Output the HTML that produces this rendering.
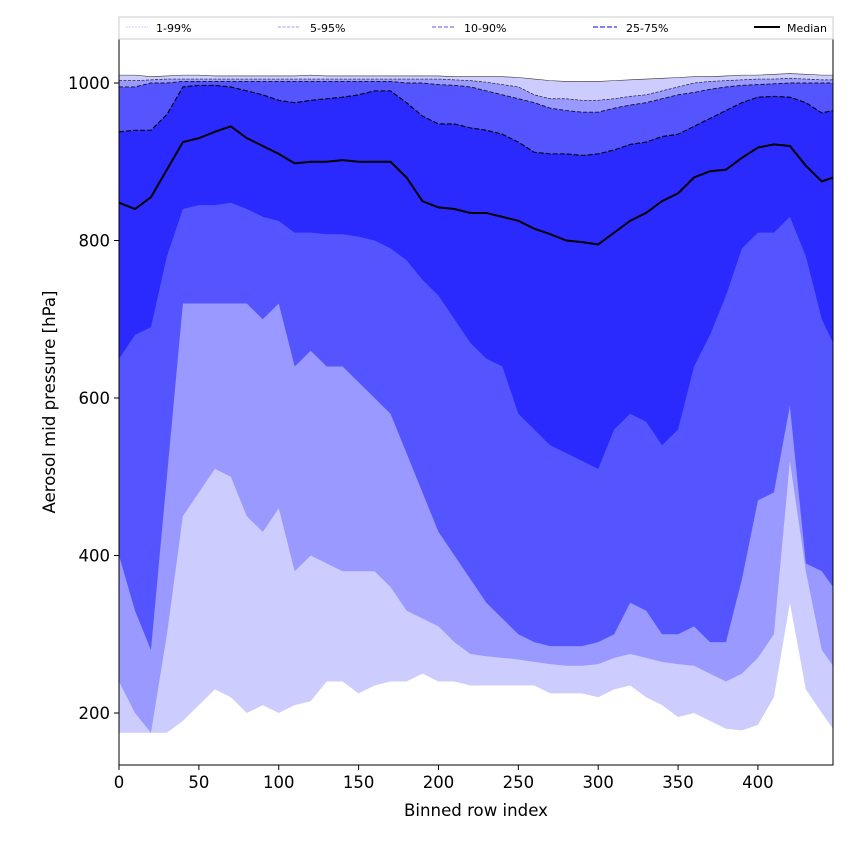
<!DOCTYPE html>
<html><head><meta charset="utf-8"><style>
body{margin:0;background:#fff;}
svg text{font-family:"DejaVu Sans","Liberation Sans",sans-serif;}
</style></head><body>
<svg id="chart" width="850" height="850" viewBox="0 0 850 850" xmlns="http://www.w3.org/2000/svg">
<g id="bands"></g>
<g id="lines"></g>
<rect x="119" y="38" width="714" height="727" fill="none" stroke="#000" stroke-width="1"/>
<g id="axes"></g>
<text x="476" y="816" font-size="16.6" text-anchor="middle">Binned row index</text>
<text transform="translate(55,402) rotate(-90)" font-size="16.6" text-anchor="middle">Aerosol mid pressure [hPa]</text>
<g>
<rect x="119" y="17" width="714" height="22" fill="#fff" stroke="#ccc"/>
<g><line x1="126" y1="27" x2="148" y2="27" stroke="#ccccff" stroke-dasharray="2,1"/><text x="156" y="32" font-size="11">1-99%</text></g>
<g><line x1="278" y1="27" x2="300" y2="27" stroke="#9999ff" stroke-dasharray="3,1.5"/><text x="310" y="32" font-size="11">5-95%</text></g>
<g><line x1="432" y1="27" x2="456" y2="27" stroke="#7777ff" stroke-width="1.2" stroke-dasharray="4,2"/><text x="464" y="32" font-size="11">10-90%</text></g>
<g><line x1="593" y1="27" x2="617" y2="27" stroke="#5555ff" stroke-width="1.6" stroke-dasharray="5,2"/><text x="626" y="32" font-size="11">25-75%</text></g>
<g><line x1="754" y1="27" x2="780" y2="27" stroke="#000" stroke-width="2"/><text x="787" y="32" font-size="11">Median</text></g>
</g>
</svg>
<script>
const rows=[0,10,20,30,40,50,60,70,80,90,100,110,120,130,140,150,160,170,180,190,200,210,220,230,240,250,260,270,280,290,300,310,320,330,340,350,360,370,380,390,400,410,420,430,440,447];
const p1=[175,175,175,175,190,210,230,220,200,210,200,210,215,240,240,225,235,240,240,250,240,240,235,235,235,235,235,225,225,225,220,230,235,220,210,195,200,190,180,178,185,220,340,230,200,180];
const p5=[240,200,175,300,450,480,510,500,450,430,460,380,400,390,380,380,380,360,330,320,310,290,275,272,270,268,265,262,260,260,262,270,275,270,265,262,260,250,240,250,270,300,520,380,280,260];
const p10=[400,330,280,500,720,720,720,720,720,700,720,640,660,640,640,620,600,580,530,480,430,400,370,340,320,300,290,285,285,285,290,300,340,330,300,300,310,290,290,370,470,480,590,390,380,360];
const p25=[650,680,690,780,840,845,845,848,840,830,825,810,810,808,808,805,800,790,775,750,730,700,670,650,640,580,560,540,530,520,510,560,580,570,540,560,640,680,730,790,810,810,830,780,700,670];
const median=[848,840,855,890,925,930,938,945,930,920,910,898,900,900,902,900,900,900,880,850,842,840,835,835,830,825,815,808,800,798,795,810,825,835,850,860,880,888,890,905,918,922,920,895,875,880];
const p75=[938,940,940,960,995,997,997,995,990,985,978,975,978,980,982,985,990,990,975,958,948,948,943,940,935,925,912,910,910,908,910,915,922,925,932,935,945,955,965,975,982,983,982,975,962,965];
const p90=[995,995,1000,1000,1002,1002,1002,1002,1002,1002,1002,1002,1002,1002,1002,1002,1002,1002,1000,1000,998,997,995,990,985,980,975,968,965,963,963,968,972,975,980,985,988,992,995,997,998,999,1000,1000,1000,1000];
const p95=[1003,1003,1004,1005,1005,1005,1005,1005,1005,1005,1005,1005,1005,1005,1005,1005,1005,1005,1005,1005,1005,1004,1003,1001,998,995,985,980,980,978,978,980,983,985,990,995,1000,1002,1003,1004,1005,1005,1006,1005,1004,1004];
const p99=[1010,1010,1008,1009,1010,1010,1009,1009,1009,1009,1009,1009,1010,1009,1009,1009,1009,1009,1009,1009,1009,1008,1008,1008,1008,1007,1005,1003,1002,1002,1002,1003,1004,1005,1006,1007,1008,1008,1009,1010,1010,1011,1012,1011,1010,1010];
const xTicks=[0,50,100,150,200,250,300,350,400];
const yTicks=[200,400,600,800,1000];

const X=v=>119+v*(714/447);
const Y=v=>83+(1000-v)*0.7875;
const NS="http://www.w3.org/2000/svg";
const bands=document.getElementById('bands'),lines=document.getElementById('lines'),axes=document.getElementById('axes');
function mk(tag,attrs,parent){const e=document.createElementNS(NS,tag);for(const k in attrs)e.setAttribute(k,attrs[k]);parent.appendChild(e);return e;}
function band(lo,hi,color,name){
  let d='M'+rows.map((r,i)=>X(r)+','+Y(hi[i])).join('L');
  for(let i=rows.length-1;i>=0;i--)d+='L'+X(rows[i])+','+Y(lo[i]);
  const p=mk('path',{d:d+'Z',fill:color},bands);
  
  
}
band(p1,p99,'#ccccff','band-1-99');
band(p5,p95,'#9999ff','band-5-95');
band(p10,p90,'#5555ff','band-10-90');
band(p25,p75,'#2a2aff','band-25-75');
function line(arr,stroke,w,dash,name){
  const p=mk('path',{d:'M'+rows.map((r,i)=>X(r)+','+Y(arr[i])).join('L'),fill:'none',stroke:stroke,'stroke-width':w,'stroke-dasharray':dash},lines);
  
  
}
line(p99,'#333',0.6,'','line-p99');
line(p95,'#222',0.7,'3,1.5','line-p95');
line(p90,'#111',0.9,'4,2','line-p90');
line(p75,'#000',1.1,'5,2','line-p75');
line(median,'#000',2,'','line-median');
xTicks.forEach(t=>{
  const g=mk('g',{},axes);
  
  
  mk('line',{x1:X(t),x2:X(t),y1:765,y2:770,stroke:'#000'},g);
  const tx=mk('text',{x:X(t),y:788,'font-size':16.5,'text-anchor':'middle'},g);tx.textContent=t;
});
yTicks.forEach(t=>{
  const g=mk('g',{},axes);
  
  
  mk('line',{x1:114,x2:119,y1:Y(t),y2:Y(t),stroke:'#000'},g);
  const tx=mk('text',{x:110,y:Y(t)+6,'font-size':16.5,'text-anchor':'end'},g);tx.textContent=t;
});
</script>
</body></html>
